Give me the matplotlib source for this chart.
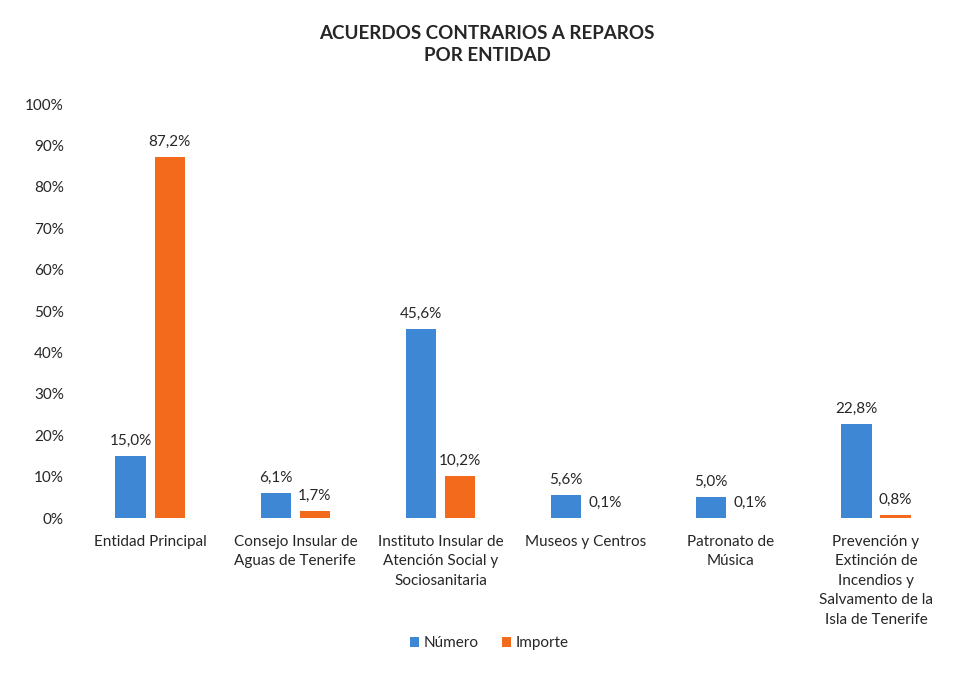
import numpy as np
import matplotlib
matplotlib.use("Agg")
import matplotlib.pyplot as plt
from matplotlib.ticker import FuncFormatter

plt.rcParams['font.family'] = ['Lato', 'DejaVu Sans']

categorias = [
    "Entidad Principal",
    "Consejo Insular de\nAguas de Tenerife",
    "Instituto Insular de\nAtención Social y\nSociosanitaria",
    "Museos y Centros",
    "Patronato de\nMúsica",
    "Prevención y\nExtinción de\nIncendios y\nSalvamento de la\nIsla de Tenerife",
]
numero = [15.0, 6.1, 45.6, 5.6, 5.0, 22.8]
importe = [87.2, 1.7, 10.2, 0.1, 0.1, 0.8]

azul = '#3d87d4'
naranja = '#f36a1c'
texto = '#262626'

fig = plt.figure(figsize=(9.59, 6.9), dpi=100)
ax = fig.add_axes([0.081, 0.249, 0.908, 0.60])

x = np.arange(len(categorias))
w = 0.21
off = 0.135
b1 = ax.bar(x - off, numero, w, color=azul, label='Número')
b2 = ax.bar(x + off, importe, w, color=naranja, label='Importe')

def fmt(v):
    return f"{v:.1f}%".replace('.', ',')

for bars, vals in ((b1, numero), (b2, importe)):
    for b, v in zip(bars, vals):
        ax.annotate(fmt(v), (b.get_x() + b.get_width() / 2, v),
                    xytext=(0, 6), textcoords='offset points',
                    ha='center', va='bottom', fontsize=11, color=texto)

ax.set_ylim(0, 100)
ax.set_xlim(-0.5, len(categorias) - 0.5)
ax.set_yticks(np.arange(0, 101, 10))
ax.yaxis.set_major_formatter(FuncFormatter(lambda v, p: f"{v:.0f}%"))
ax.set_xticks(x)
ax.set_xticklabels(categorias, fontsize=11, color=texto, linespacing=1.5)
ax.tick_params(axis='y', labelsize=11, labelcolor=texto, length=0, pad=10)
ax.tick_params(axis='x', length=0, pad=12)
for s in ax.spines.values():
    s.set_visible(False)

fig.text(0.508, 0.935, "ACUERDOS CONTRARIOS A REPAROS\nPOR ENTIDAD", ha='center',
         va='center', fontsize=13.5, fontweight='bold', color=texto, linespacing=1.35)

fig.legend(handles=[b1, b2], loc='center', bbox_to_anchor=(0.51, 0.068), ncol=2,
           frameon=False, fontsize=11, handlelength=0.6, handleheight=0.6,
           handletextpad=0.3, columnspacing=1.5, labelcolor=texto)

fig.savefig('out.png', dpi=100, facecolor='white')
